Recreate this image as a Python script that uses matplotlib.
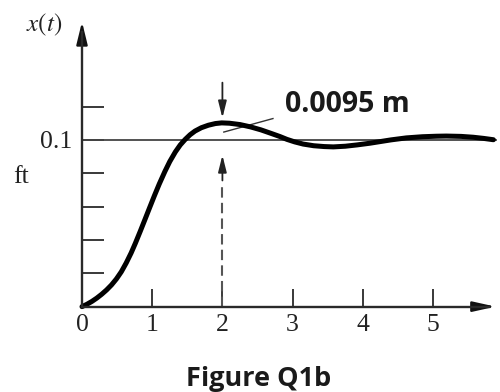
import matplotlib
matplotlib.use("Agg")
import matplotlib.pyplot as plt

# data
t_vals = [0.0, 0.07, 0.14, 0.21, 0.28, 0.35, 0.42, 0.49, 0.56, 0.63, 0.70, 0.76, 0.83, 0.90,
          0.96, 1.03, 1.10, 1.18, 1.25, 1.33, 1.40, 1.47, 1.54, 1.61, 1.70, 1.80, 1.90, 1.99,
          2.10, 2.25, 2.40, 2.55, 2.70, 2.82, 2.92, 3.03, 3.15, 3.30, 3.45, 3.58, 3.75, 3.92,
          4.10, 4.25, 4.40, 4.62, 4.85, 5.05, 5.19, 5.40, 5.57, 5.72, 5.86]
x_vals = [0.0, 0.0014, 0.0031, 0.0051, 0.0074, 0.0100, 0.0130, 0.0166, 0.0209, 0.0262, 0.0322, 0.0380, 0.0452, 0.0526,
          0.0590, 0.0664, 0.0735, 0.0810, 0.0870, 0.0928, 0.0970, 0.1003, 0.1031, 0.1053, 0.1073, 0.1088, 0.1098, 0.1102,
          0.1100, 0.1092, 0.1078, 0.1060, 0.1038, 0.1020, 0.1003, 0.0988, 0.0975, 0.0965, 0.0960, 0.0958, 0.0962, 0.0970,
          0.0980, 0.0990, 0.1000, 0.1012, 0.1019, 0.1022, 0.1023, 0.1021, 0.1016, 0.1009, 0.1001]
x_ticks = [1, 2, 3, 4, 5]
x_tick_labels = ["1", "2", "3", "4", "5"]
y_ticks = [0.02, 0.04, 0.06, 0.08, 0.10, 0.12]
y_tick_labels = ["", "", "", "", "0.1", ""]
ref_level = 0.1
peak_t = 2.0
peak_x = 0.1103
overshoot_label = "0.0095 m"

fig = plt.figure(figsize=(5.0, 3.92), dpi=100)
ax = fig.add_axes([0, 0, 1, 1])
ax.set_xlim(-1.168, 5.954)
ax.set_ylim(-0.0512, 0.1839)
ax.set_facecolor("white")

axis_col = "#2a2a2a"
for s in ["top", "right"]:
    ax.spines[s].set_visible(False)
ax.spines["left"].set_position(("data", 0))
ax.spines["bottom"].set_position(("data", 0))
ax.spines["left"].set_bounds(0, 0.165)
ax.spines["bottom"].set_bounds(0, 5.8)
for s in ["left", "bottom"]:
    ax.spines[s].set_linewidth(1.7)
    ax.spines[s].set_color(axis_col)
    ax.spines[s].set_zorder(5)

# arrowheads on axes
ax.annotate("", xy=(0, 0.1725), xytext=(0, 0.155),
            arrowprops=dict(arrowstyle="-|>,head_length=1.35,head_width=0.33", color="#111111", lw=1.7))
ax.annotate("", xy=(5.93, 0), xytext=(5.6, 0),
            arrowprops=dict(arrowstyle="-|>,head_length=1.35,head_width=0.3", color="#111111", lw=1.7))

ax.set_xticks([0] + x_ticks)
ax.set_xticklabels(["0"] + x_tick_labels)
ax.set_yticks(y_ticks)
ax.set_yticklabels(y_tick_labels)
ax.tick_params(axis="x", direction="in", length=13, width=1.3, color=axis_col, pad=5,
               labelsize=18.5, labelfontfamily="Liberation Serif", labelcolor="#222222")
ax.tick_params(axis="y", direction="in", length=15.5, width=1.3, color=axis_col, pad=7,
               labelsize=18.5, labelfontfamily="Liberation Serif", labelcolor="#222222")
ax.xaxis.get_major_ticks()[0].tick1line.set_visible(False)

# reference line at 0.1
ax.plot([0, 5.9], [ref_level, ref_level], color="#444444", lw=1.3, zorder=3)

# response curve
ax.plot(t_vals, x_vals, color="black", lw=3.6, solid_capstyle="round",
        solid_joinstyle="round", zorder=4)

# dashed line at peak time and arrows marking the overshoot
ax.plot([peak_t, peak_t], [0, 0.074], color="#555555", lw=1.5, dashes=(5, 2.5), zorder=2)
ax.annotate("", xy=(peak_t, 0.0925), xytext=(peak_t, 0.074),
            arrowprops=dict(arrowstyle="-|>,head_length=1.0,head_width=0.25", color="#222222", lw=1.3))
ax.annotate("", xy=(peak_t, 0.1115), xytext=(peak_t, 0.136),
            arrowprops=dict(arrowstyle="-|>,head_length=1.0,head_width=0.25", color="#222222", lw=1.3))

# leader line
ax.plot([2.02, 2.72], [0.1047, 0.1128], color="#333333", lw=1.0, zorder=3)

ax.text(2.89, 0.1167, overshoot_label, fontsize=20.5, fontweight="bold", family="Open Sans",
        color="#1a1a1a", ha="left", va="baseline")

ax.text(-0.285, 0.169, r"$x(t)$", fontsize=18, ha="right", va="center",
        math_fontfamily="stix", color="#222222")
ax.text(-0.985, 0.0741, "ft", fontsize=18.5, family="Liberation Serif", ha="left",
        va="baseline", color="#222222")

ax.text(2.52, -0.0476, "Figure Q1b", fontsize=19.5, fontweight="bold", family="Open Sans",
        color="#1a1a1a", ha="center", va="baseline")

fig.savefig("out.png", dpi=100)
